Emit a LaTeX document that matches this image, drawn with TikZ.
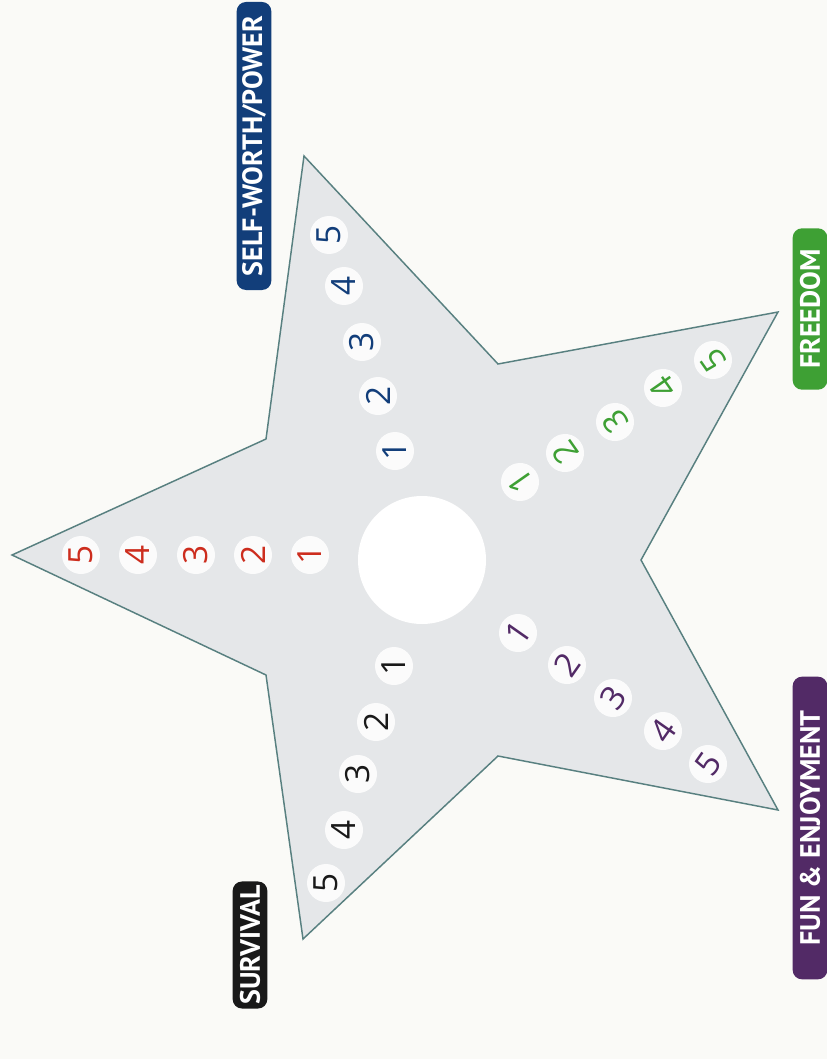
\documentclass[tikz,border=0pt]{standalone}
\usepackage{fontspec}
\setmainfont{Open Sans}
\newfontfamily\tagfont{PT Sans}
\definecolor{paper}{RGB}{250,250,247}
\definecolor{starfill}{RGB}{229,231,233}
\definecolor{staredge}{RGB}{88,128,128}
\definecolor{survivalblack}{RGB}{25,25,25}
\definecolor{lovered}{RGB}{205,45,30}
\definecolor{powerblue}{RGB}{18,62,122}
\definecolor{freedomgreen}{RGB}{62,160,52}
\definecolor{funpurple}{RGB}{82,42,102}
\usetikzlibrary{positioning}

\tikzset{
  tag/.style={rounded corners=7pt, fill=#1, text=white, rotate=90, minimum height=26pt,
    inner ysep=0pt, inner xsep=3pt, font=\tagfont\bfseries\fontsize{21}{21}\selectfont},
  score/.style={circle, fill=white, fill opacity=0.85, text opacity=1, minimum size=28.5pt,
    inner sep=0pt, font=\fontsize{25}{25}\selectfont}
}

\begin{document}
\begin{tikzpicture}[x=0.75pt,y=-0.75pt]
\fill[paper] (0,0) rectangle (827,1059);
\useasboundingbox (0,0) rectangle (827,1059);

% the star
\draw[staredge, fill=starfill, line width=1.1pt] (12,555) -- (266,439) -- (304,156) -- (498,364)
  -- (778,312) -- (641,560) -- (778,810) -- (498,756) -- (303,939) -- (266,675) -- cycle;
\fill[white] (422,560) circle [radius=48pt];

% scores on each arm
\foreach \n/\x/\y in {1/310/555, 2/253/555, 3/196/555, 4/138/555, 5/81/555}
  \node[score, text=lovered, rotate=90] (love\n) at (\x,\y) {\n};
\foreach \n/\x/\y in {1/395/451, 2/378/396, 3/362/342, 4/344/286, 5/329/235}
  \node[score, text=powerblue, rotate=90] (power\n) at (\x,\y) {\n};
\foreach \n/\x/\y in {1/394/666, 2/376/722, 3/358/774, 4/344/830, 5/326/883}
  \node[score, text=survivalblack, rotate=90] (survive\n) at (\x,\y) {\n};
\foreach \n/\x/\y in {1/518/633, 2/567/665, 3/613/698, 4/663/731, 5/708/764}
  \node[score, text=funpurple, rotate=55] (fun\n) at (\x,\y) {\n};
\foreach \n/\x/\y in {1/520/482, 2/565/453, 3/615/422, 4/663/388, 5/713/360}
  \node[score, text=freedomgreen, rotate=125] (free\n) at (\x,\y) {\n};

% labels
\node[tag=powerblue, minimum width=216pt] (selfworth) at (254,146) {SELF-WORTH/POWER};
\node[tag=freedomgreen, minimum width=121pt] (freedom) at (810,309) {FREEDOM};
\node[tag=funpurple, minimum width=227pt] (funlabel) at (810,828) {FUN \& ENJOYMENT};
\node[tag=survivalblack, minimum width=86pt] (survival) at (250,945) {SURVIVAL};
\end{tikzpicture}
\end{document}
